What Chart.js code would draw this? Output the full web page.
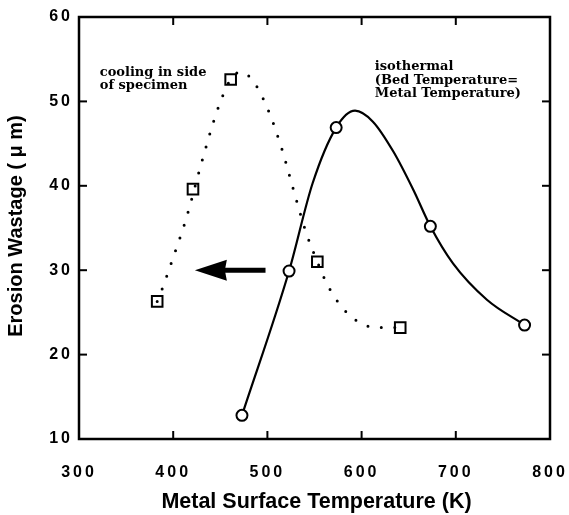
<!DOCTYPE html>
<html>
<head>
<meta charset="utf-8">
<script src="https://cdn.jsdelivr.net/npm/chart.js@4/dist/chart.umd.min.js"></script>
<style>
  html, body { margin: 0; padding: 0; background: #fff; }
</style>
</head>
<body>
<canvas id="myChart" width="569" height="515"></canvas>
<script>
// ---------------------------------------------------------
// data
const xTicks = [300, 400, 500, 600, 700, 800];
const yTicks = [10, 20, 30, 40, 50, 60];

// isothermal (bed temperature = metal temperature), circles
const isoTemp = [473, 523, 573, 673, 773];
const isoWastage = [12.8, 29.9, 46.9, 35.2, 23.5];
// the smooth solid line through them
const isoLineTemp = [473, 523, 548, 573, 593, 612, 634, 655, 673, 697, 733, 773];
const isoLineWastage = [12.8, 29.9, 40.3, 46.9, 48.9, 47.6, 44.0, 39.5, 35.2, 30.8, 26.5, 23.5];

// cooling in side of specimen, squares
const coolTemp = [383, 421, 461, 553, 641];
const coolWastage = [26.3, 39.6, 52.6, 31.0, 23.2];
// the dotted line
const coolLineTemp = [383, 389, 399, 414, 430, 447, 461, 472, 485, 500, 515, 528, 541, 553, 565, 586, 616, 641];
const coolLineWastage = [26.3, 28.0, 31.2, 36.2, 42.7, 49.0, 52.6, 53.5, 52.4, 49.2, 44.5, 39.4, 34.5, 31.0, 28.0, 24.8, 23.2, 23.2];

// arrow (tail -> tip) in data units
const arrowTemp = [498, 423];
const arrowWastage = [30, 30];

// text notes, anchored at the first baseline in data units
const noteCoolLines = ['cooling in side', 'of specimen'];
const noteCoolAt = [322, 53.0];
const noteIsoLines = ['isothermal', '(Bed Temperature=', 'Metal Temperature)'];
const noteIsoAt = [614, 53.7];

function pts(xs, ys) {
    return xs.map((v, i) => ({ x: v, y: ys[i] }))
}

// ---------------------------------------------------------
const sansFamily = '"Liberation Sans", Arial, sans-serif';
const serifNote = 'bold 13px "DejaVu Serif", serif';

function line(c, x1, y1, x2, y2) {
    c.beginPath();
    c.moveTo(x1, y1);
    c.lineTo(x2, y2);
    c.stroke();
}

const frame = {
    id: 'frame',
    beforeDraw(chart) {
        const c = chart.ctx;
        c.save();
        c.fillStyle = '#fff';
        c.fillRect(0, 0, chart.width, chart.height);
        c.restore();
        c.letterSpacing = '3px';   // tick labels are spaced out in the original
    },
    afterDraw(chart) {
        const c = chart.ctx;
        c.letterSpacing = '0px';
        const a = chart.chartArea;
        const xs = chart.scales.x;
        const ys = chart.scales.y;
        c.save();
        c.strokeStyle = '#000';
        c.fillStyle = '#000';

        // box
        c.lineWidth = 2.5;
        c.strokeRect(a.left, a.top, a.right - a.left, a.bottom - a.top);

        // inward ticks on all four sides
        c.lineWidth = 2;
        xTicks.slice(1, -1).forEach(v => {
            const px = xs.getPixelForValue(v);
            line(c, px, a.bottom, px, a.bottom - 8);
            line(c, px, a.top, px, a.top + 8);
        });
        yTicks.slice(1, -1).forEach(v => {
            const py = ys.getPixelForValue(v);
            line(c, a.left, py, a.left + 8, py);
            line(c, a.right, py, a.right - 8, py);
        });

        // arrow
        const tx = xs.getPixelForValue(arrowTemp[0]);
        const ty = ys.getPixelForValue(arrowWastage[0]);
        const hx = xs.getPixelForValue(arrowTemp[1]);
        const hy = ys.getPixelForValue(arrowWastage[1]);
        c.lineWidth = 5;
        line(c, tx, ty, hx + 28, hy);
        c.beginPath();
        c.moveTo(hx, hy);
        c.lineTo(hx + 32, hy - 10.5);
        c.lineTo(hx + 30, hy);
        c.lineTo(hx + 32, hy + 10.5);
        c.closePath();
        c.fill();

        // notes
        c.font = serifNote;
        c.textAlign = 'left';
        c.textBaseline = 'alphabetic';
        let nx = xs.getPixelForValue(noteCoolAt[0]);
        let ny = ys.getPixelForValue(noteCoolAt[1]);
        noteCoolLines.forEach((t, i) => c.fillText(t, nx, ny + i * 13));
        nx = xs.getPixelForValue(noteIsoAt[0]);
        ny = ys.getPixelForValue(noteIsoAt[1]);
        noteIsoLines.forEach((t, i) => c.fillText(t, nx, ny + i * 13.5));

        // axis titles
        c.textAlign = 'center';
        c.textBaseline = 'alphabetic';
        c.font = 'bold 21.5px ' + sansFamily;
        c.fillText('Metal Surface Temperature (K)', (a.left + a.right) / 2 + 2, 508);
        c.font = 'bold 20px ' + sansFamily;
        c.save();
        c.translate(22, (a.top + a.bottom) / 2 - 2);
        c.rotate(-Math.PI / 2);
        c.fillText('Erosion Wastage ( \u03bc m)', 0, 0);
        c.restore();

        c.restore();
    }
};

const tickFont = { family: sansFamily, size: 16, weight: 'bold' };

const data = {
    datasets: [{
        label: 'isothermal',
        data: pts(isoTemp, isoWastage),
        showLine: false,
        pointStyle: 'circle',
        pointRadius: 5.5,
        pointBorderWidth: 2,
        pointBorderColor: '#000',
        pointBackgroundColor: '#fff',
        order: 0
    }, {
        label: 'cooling in side of specimen',
        data: pts(coolTemp, coolWastage),
        showLine: false,
        pointStyle: 'rect',
        pointRadius: 7.5,
        pointBorderWidth: 2,
        pointBorderColor: '#000',
        pointBackgroundColor: 'rgba(0,0,0,0)',
        order: 0
    }, {
        label: 'isothermal curve',
        data: pts(isoLineTemp, isoLineWastage),
        borderColor: '#000',
        borderWidth: 2.2,
        pointRadius: 0,
        cubicInterpolationMode: 'monotone',
        order: 1
    }, {
        label: 'cooling curve',
        data: pts(coolLineTemp, coolLineWastage),
        borderColor: '#000',
        borderWidth: 3,
        borderDash: [0, 13.5],
        borderCapStyle: 'round',
        pointRadius: 0,
        cubicInterpolationMode: 'monotone',
        order: 1
    }]
};

const config = {
    type: 'line',
    data: data,
    options: {
        responsive: false,
        animation: false,
        events: [],
        layout: { padding: { top: 17, right: 19, left: 0, bottom: 0 } },
        plugins: { legend: { display: false }, tooltip: { enabled: false } },
        scales: {
            x: {
                type: 'linear', min: 300, max: 800,
                grid: { display: false, drawTicks: false },
                border: { display: false },
                afterBuildTicks: s => { s.ticks = xTicks.map(v => ({ value: v })) },
                afterFit: s => { s.height = 76; s.paddingLeft = 0; s.paddingRight = 0 },
                ticks: { autoSkip: false, maxRotation: 0, padding: 24, color: '#000', font: tickFont }
            },
            y: {
                type: 'linear', min: 10, max: 60,
                grid: { display: false, drawTicks: false },
                border: { display: false },
                afterBuildTicks: s => { s.ticks = yTicks.map(v => ({ value: v })) },
                afterFit: s => { s.width = 79; s.paddingTop = 0; s.paddingBottom = 0 },
                ticks: { padding: 6, color: '#000', font: tickFont }
            }
        }
    },
    plugins: [frame]
};

const myChart = new Chart(document.getElementById('myChart'), config);
</script>
</body>
</html>
